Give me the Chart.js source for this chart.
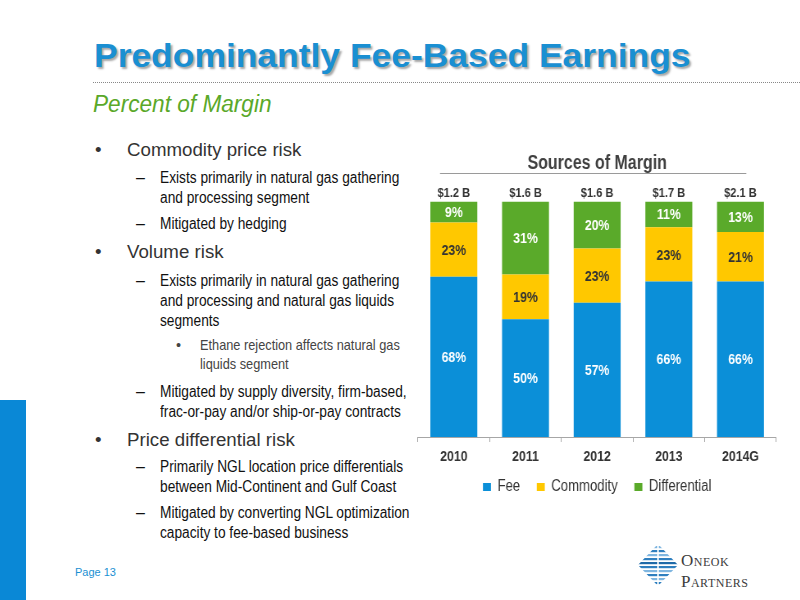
<!DOCTYPE html>
<html>
<head>
<meta charset="utf-8">
<script src="https://cdn.jsdelivr.net/npm/chart.js@4.4.1/dist/chart.umd.min.js"></script>
<style>
  html, body { margin: 0; padding: 0; background: #fff; }
  #slide { position: relative; width: 800px; height: 600px; overflow: hidden; font-family: "Liberation Sans", Arial, sans-serif; color: #222; }
  .abs { position: absolute; white-space: nowrap; }
  .narrow { transform: scaleX(0.857); transform-origin: 0 0; }
  .narrow3 { transform: scaleX(0.88); transform-origin: 0 0; }
  #title { left: 94px; top: 36px; font: bold 34px "Liberation Sans", Arial, sans-serif; color: #1a8fd2; text-shadow: 2px 2px 2px rgba(0,0,0,0.35); transform-origin: 0 0; }
  #rule { left: 93px; top: 82px; width: 707px; border-top: 1px dotted #888; }
  #sub { left: 93px; top: 91px; font: italic 23px "Liberation Sans", Arial, sans-serif; color: #5aa829; transform-origin: 0 0; }
  .b1 { font-size: 18.7px; color: #333; }
  .b2 { font: 16px/20px "Liberation Sans", Arial, sans-serif; color: #111; }
  .b3 { font: 14.5px/19px "Liberation Sans", Arial, sans-serif; color: #444; }
  .dash { font: 16px/20px "Liberation Sans", Arial, sans-serif; color: #111; }
  #bar { left: 0; top: 400px; width: 26px; height: 200px; background: #0a88d6; }
  #page { left: 75px; top: 566px; font-size: 11px; color: #1a8fd2; }
  #chartBox { position: absolute; left: 400px; top: 145px; width: 476px; height: 360px; transform: scaleX(0.82); transform-origin: 0 0; }
  #logoTxt { left: 681px; top: 550px; font: 17px/21px "Liberation Serif", serif; font-variant: small-caps; color: #3c3c3c; letter-spacing: 0.5px; }
</style>
</head>
<body>
<div id="slide">
  <div class="abs" id="title">Predominantly Fee-Based Earnings</div>
  <div class="abs" id="rule"></div>
  <div class="abs" id="sub">Percent of Margin</div>

  <div class="abs b1" style="left:95px;top:139px">•</div>
  <div class="abs b1" style="left:127px;top:139px">Commodity price risk</div>
  <div class="abs dash" style="left:136px;top:168px">–</div>
  <div class="abs b2 narrow" style="left:160px;top:168px">Exists primarily in natural gas gathering<br>and processing segment</div>
  <div class="abs dash" style="left:136px;top:214px">–</div>
  <div class="abs b2 narrow" style="left:160px;top:214px">Mitigated by hedging</div>

  <div class="abs b1" style="left:95px;top:241px">•</div>
  <div class="abs b1" style="left:127px;top:241px">Volume risk</div>
  <div class="abs dash" style="left:136px;top:271px">–</div>
  <div class="abs b2 narrow" style="left:160px;top:271px">Exists primarily in natural gas gathering<br>and processing and natural gas liquids<br>segments</div>
  <div class="abs b3" style="left:176px;top:336px">•</div>
  <div class="abs b3 narrow3" style="left:200px;top:336px">Ethane rejection affects natural gas<br>liquids segment</div>
  <div class="abs dash" style="left:136px;top:382px">–</div>
  <div class="abs b2 narrow" style="left:160px;top:382px">Mitigated by supply diversity, firm-based,<br>frac-or-pay and/or ship-or-pay contracts</div>

  <div class="abs b1" style="left:95px;top:429px">•</div>
  <div class="abs b1" style="left:127px;top:429px">Price differential risk</div>
  <div class="abs dash" style="left:136px;top:457px">–</div>
  <div class="abs b2 narrow" style="left:160px;top:457px">Primarily NGL location price differentials<br>between Mid-Continent and Gulf Coast</div>
  <div class="abs dash" style="left:136px;top:503px">–</div>
  <div class="abs b2 narrow" style="left:160px;top:503px">Mitigated by converting NGL optimization<br>capacity to fee-based business</div>

  <div class="abs" id="bar"></div>
  <div class="abs" id="page">Page 13</div>

  <svg class="abs" style="left:638px;top:544px" width="40" height="42" viewBox="0 0 40 42">
    <defs><clipPath id="dia"><polygon points="20,0 40,21 20,42 0,21"/></clipPath></defs>
    <g clip-path="url(#dia)">
      <rect x="0" y="2" width="40" height="2.2" fill="#7fb6e0"/><rect x="0" y="6" width="40" height="2.2" fill="#2f7fbf"/>
      <rect x="0" y="10" width="40" height="2.2" fill="#7fb6e0"/><rect x="0" y="14" width="40" height="2.2" fill="#2f7fbf"/>
      <rect x="0" y="18" width="40" height="2.2" fill="#1f6aa8"/><rect x="0" y="22" width="40" height="2.2" fill="#2f7fbf"/>
      <rect x="0" y="26" width="40" height="2.2" fill="#7fb6e0"/><rect x="0" y="30" width="40" height="2.2" fill="#2f7fbf"/>
      <rect x="0" y="34" width="40" height="2.2" fill="#7fb6e0"/><rect x="0" y="38" width="40" height="2.2" fill="#2f7fbf"/>
    </g>
    <line x1="20" y1="0" x2="20" y2="42" stroke="#fff" stroke-width="1.5"/>
  </svg>
  <div class="abs" id="logoTxt">Oneok<br>Partners</div>

  <div id="chartBox"><canvas id="margin-chart"></canvas></div>
</div>

<script>
var years = ["2010", "2011", "2012", "2013", "2014G"];
var feeValues = [68, 50, 57, 66, 66];
var commodityValues = [23, 19, 23, 23, 21];
var differentialValues = [9, 31, 20, 11, 13];
var totalLabels = ["$1.2 B", "$1.6 B", "$1.6 B", "$1.7 B", "$2.1 B"];

// chart box is squeezed to 82% wide, so plain Liberation Sans looks like Arial Narrow
var squeeze = 0.82;
var chartFont = '"Liberation Sans", Arial, sans-serif';
var labelColors = ["#ffffff", "#333333", "#ffffff"];
var titlePadTop = 7;
var titleSize = 19.5;

var FitWidth = (id, target) => {
    var el = document.getElementById(id);
    el.style.transform = 'scaleX(' + (target / el.offsetWidth) + ')';
};

var BarLabels = {
    id: 'barLabels',
    afterDatasetsDraw: (chart) => {
        var ctx = chart.ctx;
        ctx.save();
        ctx.textAlign = 'center';
        ctx.textBaseline = 'middle';
        ctx.font = 'bold 15px ' + chartFont;
        chart.data.datasets.forEach((ds, i) => {
            var meta = chart.getDatasetMeta(i);
            meta.data.forEach((bar, j) => {
                ctx.fillStyle = labelColors[i];
                ctx.fillText(ds.data[j] + '%', bar.x, (bar.y + bar.base) / 2 + 1);
            });
        });
        // totals over each stack
        var topMeta = chart.getDatasetMeta(chart.data.datasets.length - 1);
        ctx.font = 'bold 13.5px ' + chartFont;
        ctx.fillStyle = '#333';
        topMeta.data.forEach((bar, j) => {
            ctx.fillText(totalLabels[j], bar.x, bar.y - 8);
        });
        // rule under the chart title
        var mid = chart.titleBlock.top + titlePadTop + titleSize * 0.6;
        var y = Math.round(mid + 9) + 0.5;
        ctx.strokeStyle = '#9a9a9a';
        ctx.lineWidth = 1;
        ctx.beginPath();
        ctx.moveTo(chart.chartArea.left + 22 / squeeze, y);
        ctx.lineTo(chart.chartArea.right - 30 / squeeze, y);
        ctx.stroke();
        ctx.restore();
    }
};

var PlotMarginChart = () => {
    var ctx = document.getElementById('margin-chart').getContext('2d');
    new Chart(ctx, {
        type: 'bar',
        data: {
            labels: years,
            datasets: [
                { label: 'Fee', data: feeValues, backgroundColor: '#0b8fd8' },
                { label: 'Commodity', data: commodityValues, backgroundColor: '#ffc800' },
                { label: 'Differential', data: differentialValues, backgroundColor: '#5aaa2a' }
            ]
        },
        options: {
            responsive: true,
            maintainAspectRatio: false,
            animation: false,
            datasets: { bar: { categoryPercentage: 1, barPercentage: 0.655 } },
            layout: { padding: { left: 18 / squeeze, right: 14 / squeeze, top: 0, bottom: 0 } },
            plugins: {
                title: {
                    display: true,
                    text: 'Sources of Margin',
                    color: '#404040',
                    font: { family: chartFont, size: titleSize, weight: 'bold' },
                    padding: { top: titlePadTop, bottom: 26 }
                },
                legend: {
                    position: 'bottom',
                    labels: {
                        boxWidth: 8 / squeeze, boxHeight: 8, padding: 7,
                        color: '#333',
                        font: { family: chartFont, size: 16 },
                        // widen the gap between entries without touching the vertical padding
                        generateLabels: (chart) => {
                            var items = Chart.defaults.plugins.legend.labels.generateLabels(chart);
                            items.forEach((it, k) => {
                                if (k < items.length - 1) it.text = it.text + '\u00A0\u00A0\u00A0';
                            });
                            return items;
                        }
                    }
                },
                tooltip: { enabled: false }
            },
            scales: {
                x: {
                    stacked: true,
                    grid: { display: true, drawOnChartArea: false, drawTicks: true, tickLength: 5, color: '#a6a6a6', offset: true },
                    border: { display: true, color: '#a6a6a6' },
                    ticks: { color: '#333', padding: 6, font: { family: chartFont, size: 15, weight: 'bold' } }
                },
                y: { stacked: true, display: false, min: 0, max: 100 }
            }
        },
        plugins: [BarLabels]
    });
};

FitWidth('title', 597);
FitWidth('sub', 179);
PlotMarginChart();
</script>
</body>
</html>
